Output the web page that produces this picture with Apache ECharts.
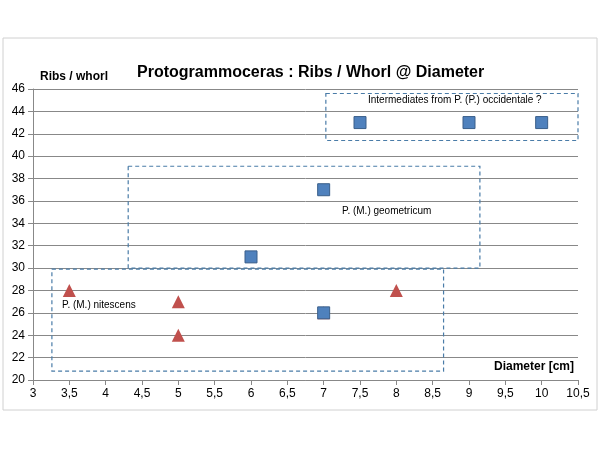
<!DOCTYPE html><html><head><meta charset="utf-8"><script src="https://cdn.jsdelivr.net/npm/echarts@6/dist/echarts.min.js"></script></head><body style="margin:0"><div id="c" style="width:600px;height:450px"></div><script>
const squares=[[6,31],[7,37],[7,26],[7.5,43],[9,43],[10,43]];
const triangles=[[3.5,28],[5,27],[5,24],[7,26],[8,28]];
const boxes=[[[3.26,29.9],[8.65,20.8]],[[4.31,39.1],[9.15,30.0]],[[7.03,45.6],[10.5,41.4]]];
const boxLabels=[["P. (M.) nitescens",62,306],["P. (M.) geometricum",342,212],["Intermediates from P. (P.) occidentale ?",368,101]];
const ch=echarts.init(document.getElementById('c'));
const f="Liberation Sans, Arial, sans-serif";
ch.setOption({
animation:false,
title:{text:"Protogrammoceras : Ribs / Whorl @ Diameter",left:132,top:60,textStyle:{fontSize:16,fontWeight:'bold',fontFamily:f,color:'#000'}},
grid:{left:33,right:22,top:89,bottom:70},
xAxis:{type:'value',min:3,max:10.5,interval:0.5,axisLine:{lineStyle:{color:'#888'}},axisTick:{show:true,lineStyle:{color:'#888'}},splitLine:{show:false},
 axisLabel:{color:'#000',fontFamily:f,fontSize:12,formatter:v=>String(v).replace('.',',')}},
yAxis:{type:'value',min:20,max:46,interval:2,axisLine:{show:true,lineStyle:{color:'#888'}},axisTick:{show:true,lineStyle:{color:'#888'}},splitLine:{lineStyle:{color:'#888'}},
 axisLabel:{color:'#000',fontFamily:f,fontSize:12}},
graphic:[
 {type:'rect',shape:{x:3,y:38,width:594,height:372},style:{fill:'none',stroke:'#d0d0d0'}},
 {type:'text',left:40,top:71,style:{text:"Ribs / whorl",font:"bold 12px "+f,fill:'#000'}},
 {type:'text',left:494,top:361,style:{text:"Diameter [cm]",font:"bold 12px "+f,fill:'#000'}},
 ...boxLabels.map(b=>({type:'text',left:b[1],top:b[2]-6,style:{text:b[0],font:"10px "+f,fill:'#000'}}))
],
series:[
 {type:'scatter',data:[],markArea:{silent:true,itemStyle:{color:'rgba(0,0,0,0)',borderColor:'#4a7ca8',borderWidth:1.2,borderType:[4,3]},data:boxes.map(b=>[{coord:b[0]},{coord:b[1]}])}},
 {type:'scatter',data:triangles,symbol:'triangle',symbolSize:13,itemStyle:{color:'#c0504d',opacity:1}},
 {type:'scatter',data:squares,symbol:'rect',symbolSize:12,itemStyle:{color:'#4f81bd',borderColor:'#3a5f8a',borderWidth:1,opacity:1}}
]});
</script></body></html>
